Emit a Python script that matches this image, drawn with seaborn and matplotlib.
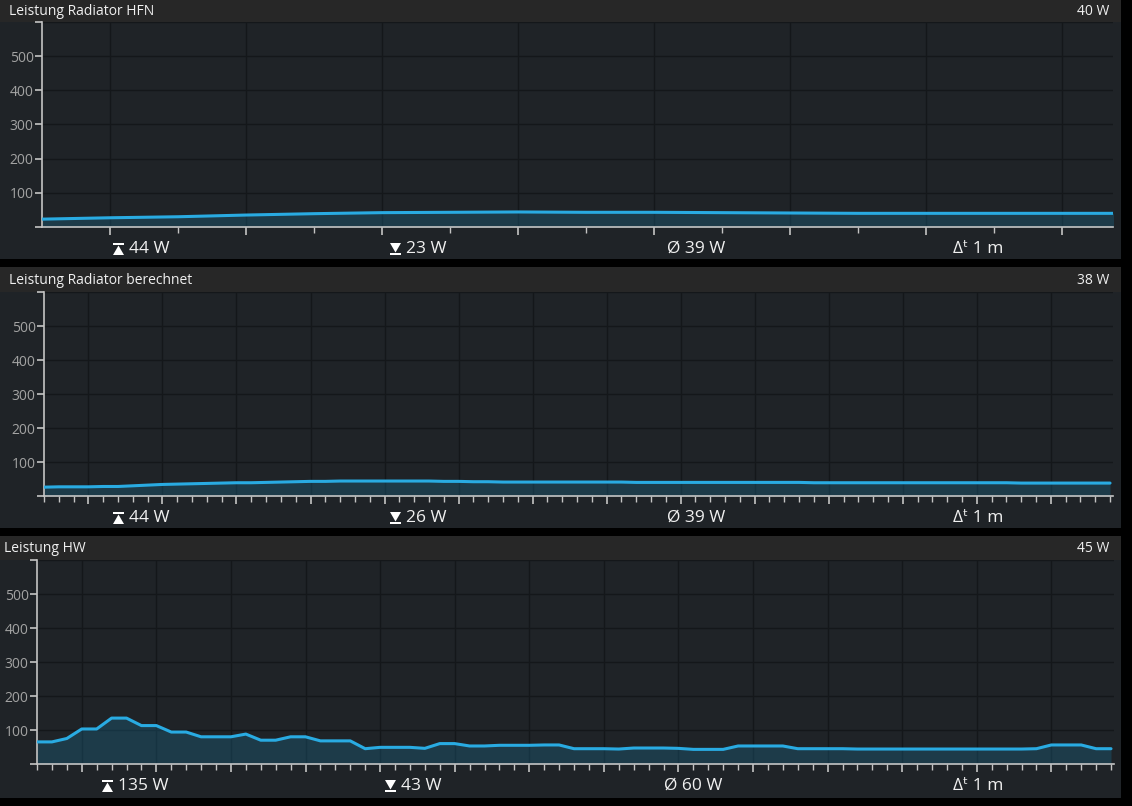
import numpy as np
import pandas as pd
import matplotlib
matplotlib.use("Agg")
import matplotlib.pyplot as plt
import seaborn as sns
from matplotlib.patches import Rectangle, Polygon

# ---------------- data ----------------
titles = ["Leistung Radiator HFN", "Leistung Radiator berechnet", "Leistung HW"]
current_values = ["40 W", "38 W", "45 W"]
stat_max = ["44 W", "44 W", "135 W"]
stat_min = ["23 W", "26 W", "43 W"]
stat_avg = ["39 W", "39 W", "60 W"]
stat_dt = ["1 m", "1 m", "1 m"]

hfn_values = [23, 27, 30, 35, 39, 42, 43, 44, 43, 43, 42, 41, 40, 40, 40, 40, 40]

calc_values = [26, 27, 27, 27, 28, 28, 30, 32, 34, 35, 36, 37, 38, 39, 39, 40,
               41, 42, 43, 43, 44, 44, 44, 44, 44, 44, 44, 43, 43, 42, 42, 41,
               41, 41, 41, 41, 41, 41, 41, 41, 40, 40, 40, 40, 40, 40, 40, 40,
               40, 40, 40, 40, 39, 39, 39, 39, 39, 39, 39, 39, 39, 39, 39, 39,
               39, 39, 38, 38, 38, 38, 38, 38, 38]

hw_values = [65, 65, 75, 103, 103, 135, 135, 113, 113, 94, 94, 80, 80, 80, 88,
             70, 70, 80, 80, 68, 68, 68, 45, 49, 49, 49, 46, 60, 60, 53, 53,
             55, 55, 55, 56, 56, 45, 45, 45, 44, 47, 47, 47, 46, 43, 43, 43,
             53, 53, 53, 53, 45, 45, 45, 45, 44, 44, 44, 44, 44, 44, 44, 44,
             44, 44, 44, 44, 45, 56, 56, 56, 45, 45]

series = [hfn_values, calc_values, hw_values]
y_ticks = [0, 100, 200, 300, 400, 500, 600]
y_tick_labels = ["", "100", "200", "300", "400", "500", ""]

# ---------------- style ----------------
sns.set_theme(style="dark")
plt.rcParams["font.family"] = ["Open Sans", "DejaVu Sans"]

W, H = 1132, 806
fig = plt.figure(figsize=(W / 100, H / 100), dpi=100, facecolor="black")

BG = "#1f2327"
BAR = "#272727"
LINE = "#29abe2"
FILL = "#1a6a8a"
GRID = "#14171a"
AXC = "#c4c4c4"
TICKLAB = "#a3a3a3"
TXT = "#f0f0f0"

ax_bg = fig.add_axes([0, 0, 1, 1], zorder=0)
ax_bg.set_xlim(0, W)
ax_bg.set_ylim(H, 0)
ax_bg.axis("off")
ax_bg.set_facecolor("black")

panels = [
    dict(top=0, bar=22, l=42, r=1113, t=22, b=227, sy=249, bottom=259, tx=9,
         sx=[113, 390, 667, 953], xlim=(0, 15.75), major=list(range(1, 16, 2)),
         minor=list(range(2, 16, 2))),
    dict(top=267, bar=292, l=44, r=1113, t=292, b=496, sy=518, bottom=528, tx=9,
         sx=[113, 390, 667, 953], xlim=(0, 72.2), major=list(range(3, 72, 5)),
         minor=list(range(0, 73))),
    dict(top=536, bar=560, l=37, r=1114, t=560, b=764, sy=786, bottom=798, tx=4,
         sx=[102, 385, 664, 953], xlim=(0, 72.2), major=list(range(3, 72, 5)),
         minor=list(range(0, 73))),
]

for i, p in enumerate(panels):
    # panel background and title bar
    ax_bg.add_patch(Rectangle((0, p["top"]), 1121, p["bottom"] - p["top"],
                              facecolor=BG, edgecolor="none"))
    ax_bg.add_patch(Rectangle((0, p["top"]), 1121, p["bar"] - p["top"],
                              facecolor=BAR, edgecolor="none"))
    ax_bg.text(p["tx"], (p["top"] + p["bar"]) / 2 + 0.5, titles[i], color=TXT,
               fontsize=10, va="center", ha="left")
    ax_bg.text(1109, (p["top"] + p["bar"]) / 2 + 0.5, current_values[i], color=TXT,
               fontsize=10, va="center", ha="right")

    # stats row
    sy = p["sy"]
    x0 = p["sx"][0]
    ax_bg.add_patch(Rectangle((x0, sy - 6), 11, 1.8, facecolor="white", edgecolor="none"))
    ax_bg.add_patch(Polygon([(x0, sy + 6), (x0 + 11, sy + 6), (x0 + 5.5, sy - 3.5)],
                            closed=True, facecolor="white", edgecolor="none"))
    ax_bg.text(x0 + 16, sy, stat_max[i], color=TXT, fontsize=12.5, va="center", ha="left")
    x1 = p["sx"][1]
    ax_bg.add_patch(Polygon([(x1, sy - 6), (x1 + 11, sy - 6), (x1 + 5.5, sy + 3.5)],
                            closed=True, facecolor="white", edgecolor="none"))
    ax_bg.add_patch(Rectangle((x1, sy + 4.2), 11, 1.8, facecolor="white", edgecolor="none"))
    ax_bg.text(x1 + 16, sy, stat_min[i], color=TXT, fontsize=12.5, va="center", ha="left")
    ax_bg.text(p["sx"][2], sy, "\u00d8 " + stat_avg[i], color=TXT, fontsize=12.5,
               va="center", ha="left")
    ax_bg.text(p["sx"][3], sy, "\u2206\u1d57 " + stat_dt[i], color=TXT, fontsize=12.5,
               va="center", ha="left")

    # data axes
    ax = fig.add_axes([p["l"] / W, 1 - p["b"] / H, (p["r"] - p["l"]) / W,
                       (p["b"] - p["t"]) / H], zorder=2)
    ax.set_facecolor("none")
    vals = series[i]
    df = pd.DataFrame({"t": np.arange(len(vals)), "w": vals})
    ax.fill_between(df["t"], 0, df["w"], color=FILL, alpha=0.35, linewidth=0, zorder=1)
    sns.lineplot(data=df, x="t", y="w", ax=ax, color=LINE, linewidth=2.2, zorder=3)

    ax.set_xlim(*p["xlim"])
    ax.set_ylim(0, 600)
    ax.set_yticks(y_ticks)
    ax.set_yticklabels(y_tick_labels)
    ax.set_xticks(p["major"])
    ax.set_xticks(p["minor"], minor=True)
    ax.set_xticklabels([])
    ax.set_xlabel("")
    ax.set_ylabel("")

    for y in y_ticks[1:]:
        ax.axhline(y, color=GRID, linewidth=1, zorder=0)
    for x in p["major"]:
        ax.axvline(x, color=GRID, linewidth=1, zorder=0)
    ax.grid(False)

    for s in ["top", "right"]:
        ax.spines[s].set_visible(False)
    for s in ["left", "bottom"]:
        ax.spines[s].set_visible(True)
        ax.spines[s].set_color(AXC)
        ax.spines[s].set_linewidth(1.2)

    ax.tick_params(axis="y", which="major", direction="out", length=5, width=1.2,
                   color=AXC, labelcolor=TICKLAB, labelsize=10, pad=1, left=True)
    ax.tick_params(axis="x", which="major", direction="out", length=6, width=1.2,
                   color=AXC, bottom=True)
    ax.tick_params(axis="x", which="minor", direction="out", length=4, width=1,
                   color=AXC, bottom=True)

fig.savefig("out.png", dpi=100, facecolor="black")
